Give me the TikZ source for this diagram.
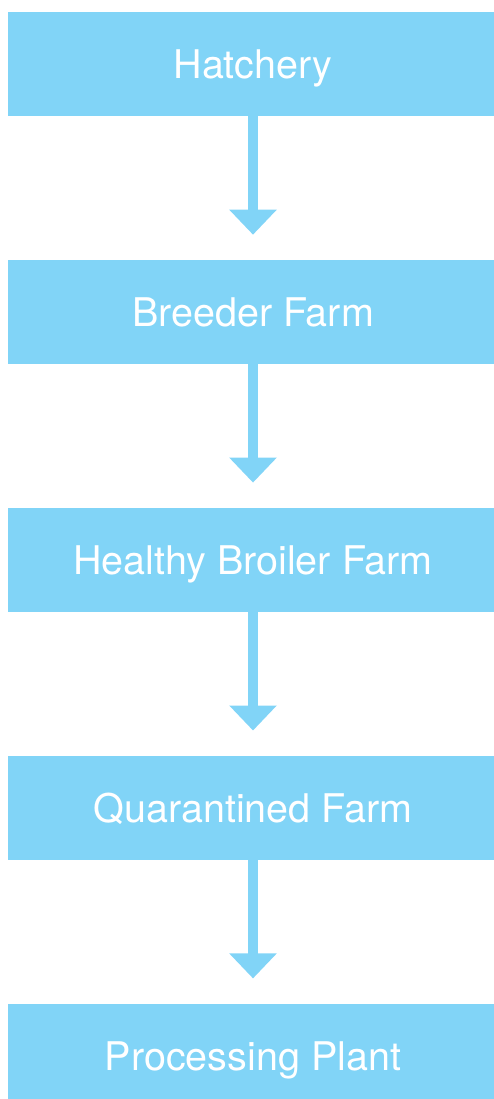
\documentclass[tikz,border=0pt]{standalone}
\usepackage{fontspec}
\setmainfont{TeX Gyre Heros}
\usepackage{tikz}
\usepackage{xcolor}
\definecolor{skyblue}{RGB}{129,212,247}
\usetikzlibrary{positioning,arrows.meta}
\tikzset{ % Setup for the flow
stagebox/.style={rectangle,fill=skyblue,text=white,minimum width=490pt,minimum height=104pt,inner sep=0pt,text depth=0pt,font=\fontsize{39.5}{39.5}\selectfont},
flowarrow/.style={draw=skyblue,line width=10pt,-{Triangle[width=46pt,length=25pt]},shorten >=25pt},
}

\begin{document}
\begin{tikzpicture}[node distance=143.5pt]
            \useasboundingbox (0,0) rectangle (494pt,-1099pt);
            \node [stagebox] (hatchery) at (253pt,-64pt) {Hatchery};
            \node [stagebox, below=of hatchery] (breeder) {Breeder Farm};
            \node [stagebox, below=of breeder] (broiler) {Healthy Broiler Farm};
            \node [stagebox, below=of broiler] (quarantine) {Quarantined Farm};
            \node [stagebox, below=of quarantine] (plant) {Processing Plant};
            \foreach \from/\to in {hatchery/breeder,breeder/broiler,broiler/quarantine,quarantine/plant}
                \draw [flowarrow] (\from.south) -- (\to.north);
        \end{tikzpicture}
\end{document}
